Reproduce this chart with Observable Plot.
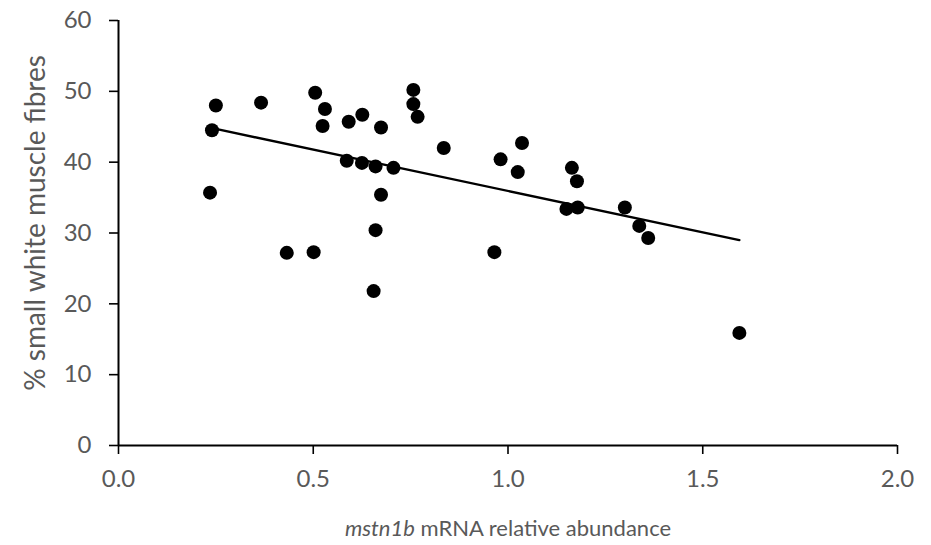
<!DOCTYPE html>
<html><head><meta charset="utf-8">
<script src="https://cdn.jsdelivr.net/npm/d3@7"></script>
<script src="https://cdn.jsdelivr.net/npm/@observablehq/plot@0.6"></script>
<style>body{margin:0;background:#fff} #chart{width:931px;height:545px}</style>
</head><body><div id="chart"></div>
<script>
// mstn1b mRNA relative abundance (x) and % small white muscle fibres (y)
const abundance = [0.250,0.366,0.505,0.530,0.524,0.591,0.626,0.674,0.757,0.757,0.768,0.835,0.981,1.036,1.025,0.240,0.235,0.586,0.625,0.660,0.706,0.674,0.660,0.432,0.501,0.965,0.655,1.164,1.177,1.150,1.179,1.300,1.337,1.360,1.594];
const smallFibres = [48.0,48.4,49.8,47.5,45.1,45.7,46.7,44.9,50.2,48.2,46.4,42.0,40.4,42.7,38.6,44.5,35.7,40.2,39.9,39.4,39.2,35.4,30.4,27.2,27.3,27.3,21.8,39.2,37.3,33.4,33.6,33.6,31.0,29.3,15.9];
const xTicks = [0, 0.5, 1.0, 1.5, 2.0];
const yTicks = [0, 10, 20, 30, 40, 50, 60];
const xTitleItalic = "mstn1b";
const xTitleRest = " mRNA relative abundance";
const yTitle = "% small white muscle fibres";

const data = abundance.map((x, i) => ({x, y: smallFibres[i]}));
const font = "Lato, 'Open Sans', sans-serif";
const grey = "#595959";

const plot = Plot.plot({
  width: 931, height: 545,
  marginLeft: 118, marginRight: 34, marginTop: 20, marginBottom: 100,
  x: {domain: [0, 2]},
  y: {domain: [0, 60]},
  style: {fontFamily: font, background: "#fff"},
  marks: [
    Plot.axisY({ticks: yTicks, tickSize: 9, tickPadding: 18, tickFormat: d => String(d), fontSize: 24, fill: grey, stroke: "#000", strokeWidth: 1.6, label: null}),
    Plot.axisX({ticks: xTicks, tickSize: 9, tickPadding: 15, tickFormat: d => d.toFixed(1), fontSize: 24, fill: grey, stroke: "#000", strokeWidth: 1.6, label: null}),
    Plot.ruleX([0], {y1: 0, y2: 60, stroke: "#000", strokeWidth: 2}),
    Plot.ruleY([0], {x1: 0, x2: 2, stroke: "#000", strokeWidth: 2}),
    Plot.linearRegressionY(data, {x: "x", y: "y", ci: 0, stroke: "#000", strokeWidth: 2.4}),
    Plot.dot(data, {x: "x", y: "y", r: 7, fill: "#000"}),
    Plot.text([yTitle], {frameAnchor: "left", textAnchor: "middle", lineAnchor: "middle", dx: -82, dy: -10, rotate: -90, text: d => d, fontSize: 28, fill: grey, fontFamily: font}),
    Plot.text([xTitleItalic + xTitleRest], {frameAnchor: "bottom", lineAnchor: "middle", dy: 83, text: d => d, fontSize: 22, fill: grey, fontFamily: font, className: "xtitle"})
  ]
});
document.getElementById("chart").appendChild(plot);
// italicize gene name in x title
const t = plot.querySelector(".xtitle text");
if (t) {
  t.textContent = "";
  const ns = "http://www.w3.org/2000/svg";
  const a = document.createElementNS(ns, "tspan"); a.setAttribute("font-style", "italic"); a.textContent = xTitleItalic;
  const b = document.createElementNS(ns, "tspan"); b.textContent = xTitleRest;
  t.appendChild(a); t.appendChild(b);
}
</script></body></html>
